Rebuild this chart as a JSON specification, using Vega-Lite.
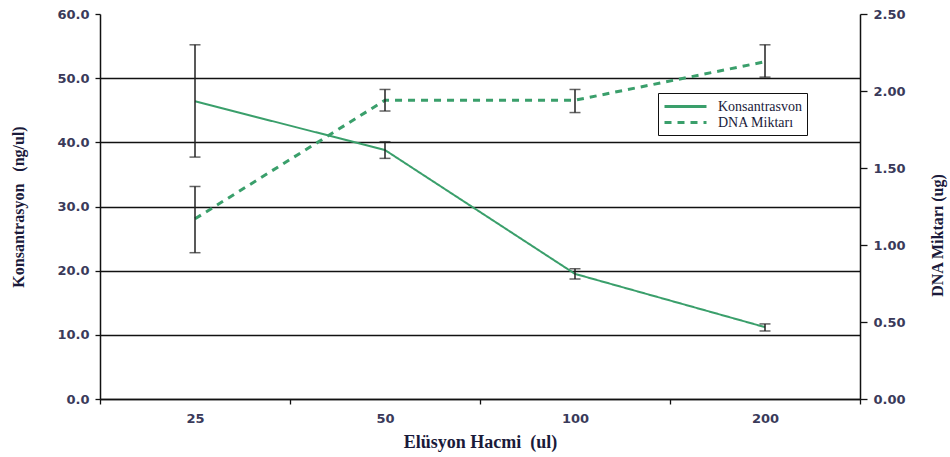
{
  "$schema": "https://vega.github.io/schema/vega-lite/v6.json",
  "width": 760,
  "height": 385,
  "autosize": {"type": "none"},
  "padding": {"left": 100, "top": 14, "right": 90, "bottom": 58},
  "background": "white",
  "config": {
    "view": {"stroke": null},
    "axis": {
      "labelFont": "DejaVu Sans",
      "labelFontSize": 13,
      "labelFontWeight": "bold",
      "labelColor": "#3a3a5a",
      "titleFont": "Liberation Serif",
      "titleFontWeight": "bold",
      "titleFontSize": 16,
      "titleColor": "#1a1a3a",
      "domainColor": "#111",
      "domainWidth": 1.5,
      "tickColor": "#111",
      "tickWidth": 1.3
    }
  },
  "datasets": {
    "kons": [
      {"hacim": "25", "seri": "Konsantrasvon", "v": 46.4, "lo": 37.7, "hi": 55.2},
      {"hacim": "50", "seri": "Konsantrasvon", "v": 38.8, "lo": 37.5, "hi": 40.1},
      {"hacim": "100", "seri": "Konsantrasvon", "v": 19.5, "lo": 18.7, "hi": 20.3},
      {"hacim": "200", "seri": "Konsantrasvon", "v": 11.2, "lo": 10.6, "hi": 11.7}
    ],
    "dna": [
      {"hacim": "25", "seri": "DNA Miktarı", "v": 1.17, "lo": 0.95, "hi": 1.38},
      {"hacim": "50", "seri": "DNA Miktarı", "v": 1.94, "lo": 1.87, "hi": 2.01},
      {"hacim": "100", "seri": "DNA Miktarı", "v": 1.94, "lo": 1.86, "hi": 2.01},
      {"hacim": "200", "seri": "DNA Miktarı", "v": 2.19, "lo": 2.09, "hi": 2.30}
    ]
  },
  "encoding": {
    "x": {
      "field": "hacim",
      "type": "ordinal",
      "sort": ["25", "50", "100", "200"],
      "scale": {"domain": ["25", "50", "100", "200"], "paddingInner": 0, "paddingOuter": 0},
      "axis": {
        "title": "Elüsyon Hacmi\u00a0\u00a0(ul)",
        "labelAngle": 0,
        "tickBand": "extent",
        "tickSize": 5,
        "labelPadding": 8,
        "titlePadding": 8,
        "titleFontSize": 18,
        "grid": false
      }
    }
  },
  "layer": [
    {
      "data": {"name": "kons"},
      "layer": [
        {
          "mark": {"type": "line", "strokeWidth": 2},
          "encoding": {
            "y": {
              "field": "v",
              "type": "quantitative",
              "scale": {"domain": [0, 60], "nice": false},
              "axis": {
                "title": "Konsantrasyon\u00a0\u00a0\u00a0(ng/ul)",
                "orient": "left",
                "values": [0, 10, 20, 30, 40, 50, 60],
                "format": ".1f",
                "tickSize": 5,
                "labelPadding": 6,
                "titlePadding": 30,
                "grid": true,
                "gridColor": "#111",
                "gridWidth": 1.3,
                "gridOpacity": {"condition": {"test": "datum.value == 60", "value": 0}, "value": 1}
              }
            },
            "color": {
              "field": "seri",
              "type": "nominal",
              "scale": {"domain": ["Konsantrasvon", "DNA Miktarı"], "range": ["#3a9f6b", "#3a9f6b"]},
              "legend": {
                "title": null,
                "orient": "none",
                "legendX": 558,
                "legendY": 79,
                "direction": "vertical",
                "symbolType": "M-1,0H5",
                "symbolSize": 196,
                "symbolStrokeWidth": 3,
                "symbolFillColor": "transparent",
                "labelFont": "Liberation Serif",
                "labelFontSize": 14,
                "labelColor": "#1a1a3a",
                "rowPadding": 0,
                "padding": 5,
                "strokeColor": "#111",
                "fillColor": "white",
                "labelOffset": 38
              }
            },
            "strokeDash": {
              "field": "seri",
              "type": "nominal",
              "scale": {"domain": ["Konsantrasvon", "DNA Miktarı"], "range": [[1, 0], [7, 6]]},
              "legend": {
                "title": null,
                "orient": "none",
                "legendX": 558,
                "legendY": 79,
                "direction": "vertical",
                "symbolType": "M-1,0H5",
                "symbolSize": 196,
                "symbolStrokeWidth": 3,
                "symbolFillColor": "transparent",
                "labelFont": "Liberation Serif",
                "labelFontSize": 14,
                "labelColor": "#1a1a3a",
                "rowPadding": 0,
                "padding": 5,
                "strokeColor": "#111",
                "fillColor": "white",
                "labelOffset": 38
              }
            }
          }
        },
        {
          "mark": {"type": "rule", "color": "#222", "strokeWidth": 1.5},
          "encoding": {
            "y": {"field": "lo", "type": "quantitative", "title": "Konsantrasyon\u00a0\u00a0\u00a0(ng/ul)"},
            "y2": {"field": "hi"}
          }
        },
        {
          "mark": {"type": "tick", "color": "#222", "size": 11, "thickness": 1.5},
          "encoding": {"y": {"field": "lo", "type": "quantitative", "title": "Konsantrasyon\u00a0\u00a0\u00a0(ng/ul)"}}
        },
        {
          "mark": {"type": "tick", "color": "#222", "size": 11, "thickness": 1.5},
          "encoding": {"y": {"field": "hi", "type": "quantitative", "title": "Konsantrasyon\u00a0\u00a0\u00a0(ng/ul)"}}
        }
      ]
    },
    {
      "data": {"name": "dna"},
      "layer": [
        {
          "mark": {"type": "line", "strokeWidth": 3},
          "encoding": {
            "y": {
              "field": "v",
              "type": "quantitative",
              "scale": {"domain": [0, 2.5], "nice": false},
              "axis": {
                "title": "DNA Miktarı (ug)",
                "orient": "right",
                "values": [0, 0.5, 1, 1.5, 2, 2.5],
                "format": ".2f",
                "tickSize": 7,
                "labelPadding": 6,
                "titleAngle": 270,
                "titleX": 77,
                "titleY": 221,
                "titleAlign": "center",
                "titleBaseline": "middle",
                "grid": false
              }
            },
            "color": {"field": "seri", "type": "nominal"},
            "strokeDash": {"field": "seri", "type": "nominal"}
          }
        },
        {
          "mark": {"type": "rule", "color": "#222", "strokeWidth": 1.5},
          "encoding": {
            "y": {"field": "lo", "type": "quantitative", "title": "DNA Miktarı (ug)"},
            "y2": {"field": "hi"}
          }
        },
        {
          "mark": {"type": "tick", "color": "#222", "size": 11, "thickness": 1.5},
          "encoding": {"y": {"field": "lo", "type": "quantitative", "title": "DNA Miktarı (ug)"}}
        },
        {
          "mark": {"type": "tick", "color": "#222", "size": 11, "thickness": 1.5},
          "encoding": {"y": {"field": "hi", "type": "quantitative", "title": "DNA Miktarı (ug)"}}
        }
      ]
    }
  ],
  "resolve": {"scale": {"y": "independent"}}
}
